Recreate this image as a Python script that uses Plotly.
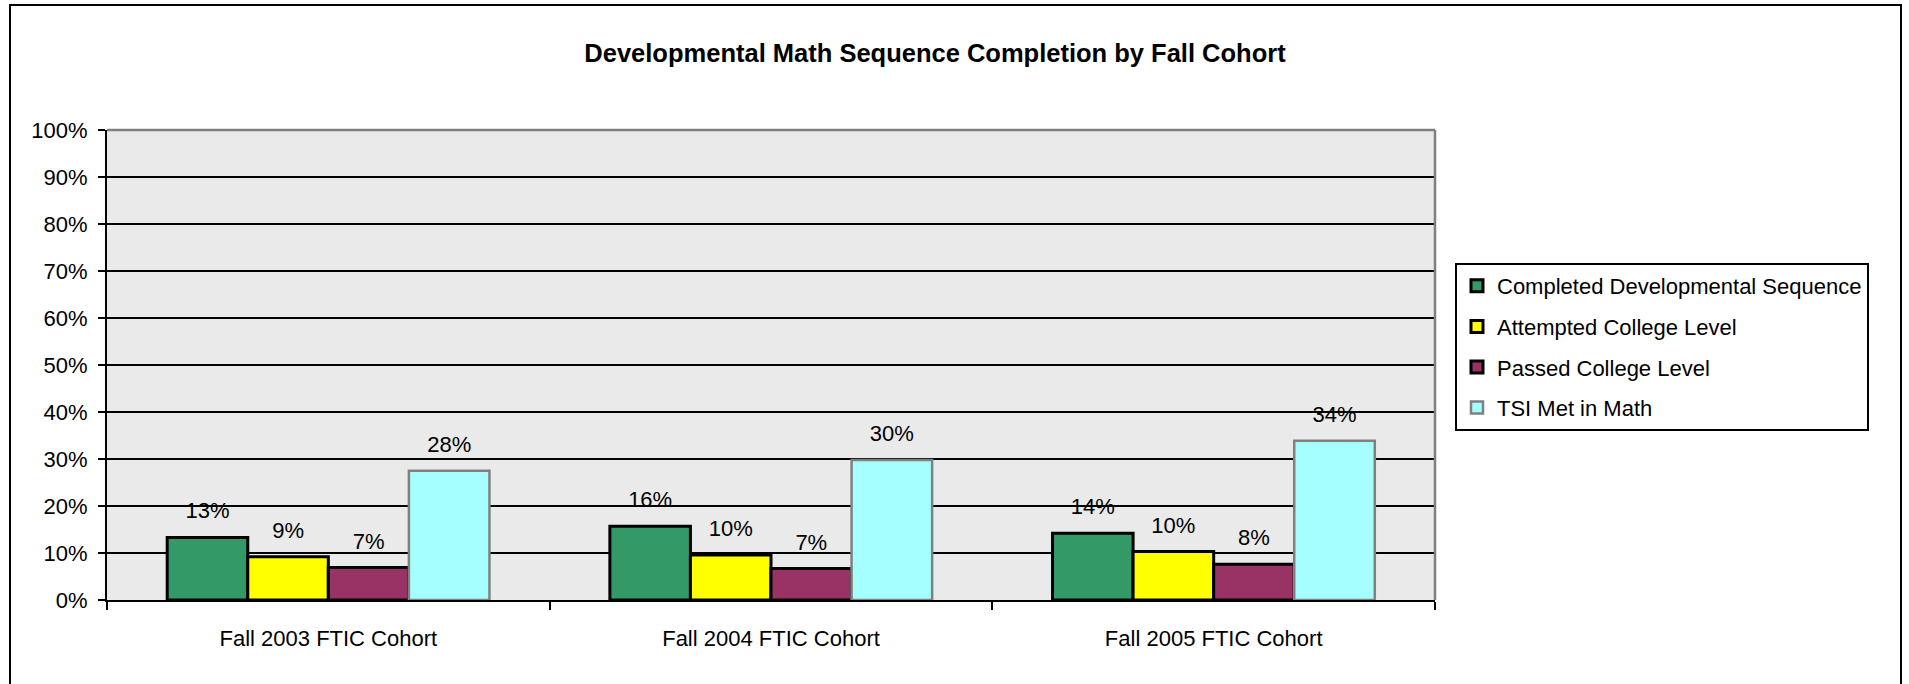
import plotly.graph_objects as go

categories = ["Fall 2003 FTIC Cohort", "Fall 2004 FTIC Cohort", "Fall 2005 FTIC Cohort"]
series_names = ["Completed Developmental Sequence", "Attempted College Level",
                "Passed College Level", "TSI Met in Math"]
completed = [0.133, 0.157, 0.142]
attempted = [0.092, 0.096, 0.103]
passed = [0.069, 0.067, 0.076]
tsi_met = [0.275, 0.298, 0.339]
y_ticks = [0, 0.1, 0.2, 0.3, 0.4, 0.5, 0.6, 0.7, 0.8, 0.9, 1.0]

values = [completed, attempted, passed, tsi_met]
fills = ["#339966", "#FFFF00", "#993366", "#A6FFFF"]
edges = ["#000000", "#000000", "#000000", "#808080"]

FONT = "Liberation Sans, Arial, sans-serif"
W, H = 1909, 684
L, R, T, B = 107, 1435, 130, 600

fig = go.Figure()
for name, vals, fc, ec in zip(series_names, values, fills, edges):
    fig.add_trace(go.Bar(
        x=categories, y=vals, name=name,
        marker=dict(color=fc, line=dict(color=ec, width=3 if ec == "#000000" else 2.5)),
        legendgroup=name,
    ))

# data labels, grouped so they sit over their bars
for name, vals in zip(series_names, values):
    fig.add_trace(go.Scatter(
        x=categories, y=vals, mode="markers+text",
        text=[f"{round(v * 100):d}%" for v in vals],
        textposition="top center",
        textfont=dict(family=FONT, size=22, color="#000000"),
        marker=dict(size=20, opacity=0),
        showlegend=False, hoverinfo="skip", cliponaxis=False,
    ))

def px_x(px):
    return (px - L) / (R - L)

def px_y(py):
    return (B - py) / (B - T)

fig.update_layout(
    width=W, height=H,
    margin=dict(l=L, r=W - R, t=T, b=H - B, pad=0),
    paper_bgcolor="#FFFFFF", plot_bgcolor="#EAEAEA",
    barmode="group", bargap=0.272, bargroupgap=0,
    scattermode="group", scattergap=0.272,
    font=dict(family=FONT, size=22, color="#000000"),
    title=dict(text="<b>Developmental Math Sequence Completion by Fall Cohort</b>",
               x=935 / W, xanchor="center", y=1 - 53 / H, yanchor="middle",
               font=dict(family=FONT, size=25.5, color="#000000")),
    showlegend=True,
    legend=dict(x=px_x(1455), y=px_y(263), xanchor="left", yanchor="top",
                bordercolor="#000000", borderwidth=2, bgcolor="#FFFFFF",
                font=dict(family=FONT, size=22, color="#000000"),
                tracegroupgap=9, traceorder="grouped",
                itemwidth=30),
    xaxis=dict(showgrid=False, showline=True, linecolor="#000000", linewidth=2,
               ticks="outside", tickson="boundaries", ticklen=8, tickcolor="#000000",
               tickwidth=1.5, tickfont=dict(family=FONT, size=22), mirror=False,
               ticklabelstandoff=18),
    yaxis=dict(range=[0, 1.0], tickvals=y_ticks, tickformat=".0%",
               showgrid=True, gridcolor="#000000", gridwidth=1.5,
               showline=True, linecolor="#000000", linewidth=2,
               ticks="outside", ticklen=7, tickcolor="#000000", tickwidth=1.5,
               tickfont=dict(family=FONT, size=22), zeroline=False,
               ticklabelstandoff=6),
    shapes=[
        dict(type="line", xref="paper", yref="paper", x0=0, x1=1, y0=1, y1=1,
             line=dict(color="#808080", width=2.5)),
        dict(type="line", xref="paper", yref="paper", x0=1, x1=1, y0=0, y1=1,
             line=dict(color="#808080", width=2.5)),
        dict(type="rect", xref="paper", yref="paper",
             x0=px_x(10), x1=px_x(1901), y0=px_y(700), y1=px_y(5),
             line=dict(color="#000000", width=2), fillcolor="rgba(0,0,0,0)", layer="above"),
    ],
)

fig.write_html("out.html", config={"displayModeBar": False},
               post_script="document.body.style.margin='0';document.body.style.overflow='hidden';")
